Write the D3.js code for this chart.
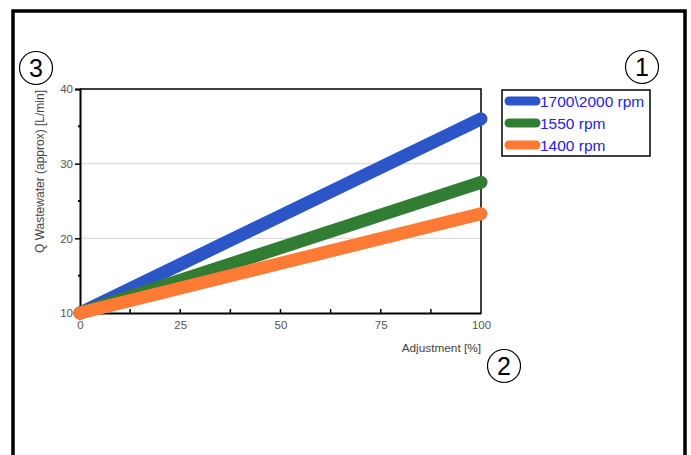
<!DOCTYPE html>
<html>
<head>
<meta charset="utf-8">
<script src="https://cdn.jsdelivr.net/npm/d3@7"></script>
<style>
  html, body { margin: 0; padding: 0; background: #fff; }
  svg { display: block; }
</style>
</head>
<body>
<svg id="chart" width="691" height="455"></svg>
<script>
// Flow of wastewater against valve adjustment, one line per pump speed
const adjustment = [0, 100];
const seriesNames = ["1700\\2000 rpm", "1550 rpm", "1400 rpm"];
const flowFast = [10, 36];
const flowMid = [10, 27.5];
const flowSlow = [10, 23.3];
const seriesColors = ["#2c56c8", "#327d34", "#ff7a35"];
const xTicks = [0, 25, 50, 75, 100];
const yTicks = [10, 20, 30, 40];

const series = [
  { name: seriesNames[0], values: flowFast, color: seriesColors[0] },
  { name: seriesNames[1], values: flowMid, color: seriesColors[1] },
  { name: seriesNames[2], values: flowSlow, color: seriesColors[2] }
];

const FONT = "Liberation Sans, Arial, sans-serif";
const svg = d3.select("#chart");

// outer frame (open at the bottom)
svg.append("path")
  .attr("d", "M13,455 L13,11 L685,11 L685,455")
  .attr("fill", "none").attr("stroke", "#000").attr("stroke-width", 3.5);

const plot = { left: 80, right: 481, top: 89, bottom: 313 };
const x = d3.scaleLinear().domain([0, 100]).range([plot.left, plot.right]);
const y = d3.scaleLinear().domain([10, 40]).range([plot.bottom, plot.top]);

// horizontal grid
svg.append("g").selectAll("line").data(yTicks.filter(t => t > 10 && t < 40)).join("line")
  .attr("x1", plot.left).attr("x2", plot.right)
  .attr("y1", d => y(d)).attr("y2", d => y(d))
  .attr("stroke", "#d4d4d4").attr("stroke-width", 1);

// plot frame top and right
svg.append("path")
  .attr("d", `M${plot.left},${plot.top} L${plot.right},${plot.top} L${plot.right},${plot.bottom}`)
  .attr("fill", "none").attr("stroke", "#000").attr("stroke-width", 1.5);

// axes
const xAxis = d3.axisBottom(x).tickValues(xTicks).tickSize(0).tickPadding(8);
const yAxis = d3.axisLeft(y).tickValues(yTicks).tickSize(5).tickPadding(2);

const gx = svg.append("g").attr("transform", `translate(0,${plot.bottom})`).call(xAxis);
const gy = svg.append("g").attr("transform", `translate(${plot.left},0)`).call(yAxis);
[gx, gy].forEach(g => {
  g.select(".domain").attr("stroke", "#000").attr("stroke-width", 2);
  g.selectAll(".tick line").attr("stroke", "#000").attr("stroke-width", 1.5);
  g.selectAll(".tick text").attr("fill", "#555").attr("font-family", FONT).attr("font-size", 11.5);
});

// small ticks along the axes
const xMinor = d3.range(0, 101, 12.5).filter(v => v > 0 && v < 100);
svg.append("g").selectAll("line").data(xMinor).join("line")
  .attr("x1", d => x(d)).attr("x2", d => x(d))
  .attr("y1", plot.bottom - 4).attr("y2", plot.bottom)
  .attr("stroke", "#000").attr("stroke-width", 1.5);
const yMinor = [15, 25, 35];
svg.append("g").selectAll("line").data(yMinor).join("line")
  .attr("x1", plot.left - 2).attr("x2", plot.left + 1)
  .attr("y1", d => y(d)).attr("y2", d => y(d))
  .attr("stroke", "#000").attr("stroke-width", 2);

// data lines
const line = d3.line().x((d, i) => x(adjustment[i])).y(d => y(d));
svg.append("g").selectAll("path").data(series).join("path")
  .attr("d", d => line(d.values))
  .attr("fill", "none").attr("stroke", d => d.color)
  .attr("stroke-width", 13).attr("stroke-linecap", "round");

// axis titles
svg.append("text")
  .attr("x", plot.right).attr("y", 352).attr("text-anchor", "end")
  .attr("font-family", FONT).attr("font-size", 11.8)
  .attr("fill", "#444").text("Adjustment [%]");
svg.append("text")
  .attr("transform", "translate(44,90) rotate(-90)").attr("text-anchor", "end")
  .attr("font-family", FONT).attr("font-size", 12)
  .attr("fill", "#444").text("Q Wastewater (approx) [L/min]");

// legend
const legend = svg.append("g");
legend.append("rect").attr("x", 502).attr("y", 90).attr("width", 148).attr("height", 66)
  .attr("fill", "#fff").attr("stroke", "#000").attr("stroke-width", 1.5);
const rows = legend.selectAll("g").data(series).join("g")
  .attr("transform", (d, i) => `translate(0,${101 + i * 22})`);
rows.append("line").attr("x1", 509).attr("x2", 536).attr("y1", 0).attr("y2", 0)
  .attr("stroke", d => d.color).attr("stroke-width", 9).attr("stroke-linecap", "round");
rows.append("text").attr("x", 540).attr("y", 5.5)
  .attr("font-family", FONT).attr("font-size", 15.5)
  .attr("fill", "#2222ee").text(d => d.name);

// numbered callouts
const callouts = [
  { n: "3", cx: 36, cy: 68 },
  { n: "1", cx: 642, cy: 67 },
  { n: "2", cx: 504, cy: 366 }
];
const cg = svg.append("g").selectAll("g").data(callouts).join("g")
  .attr("transform", d => `translate(${d.cx},${d.cy})`);
cg.append("circle").attr("r", 16.5).attr("fill", "#fff").attr("stroke", "#000").attr("stroke-width", 1.2);
cg.append("text").attr("text-anchor", "middle").attr("y", 9)
  .attr("font-family", FONT).attr("font-size", 25)
  .attr("fill", "#000").text(d => d.n);
</script>
</body>
</html>
